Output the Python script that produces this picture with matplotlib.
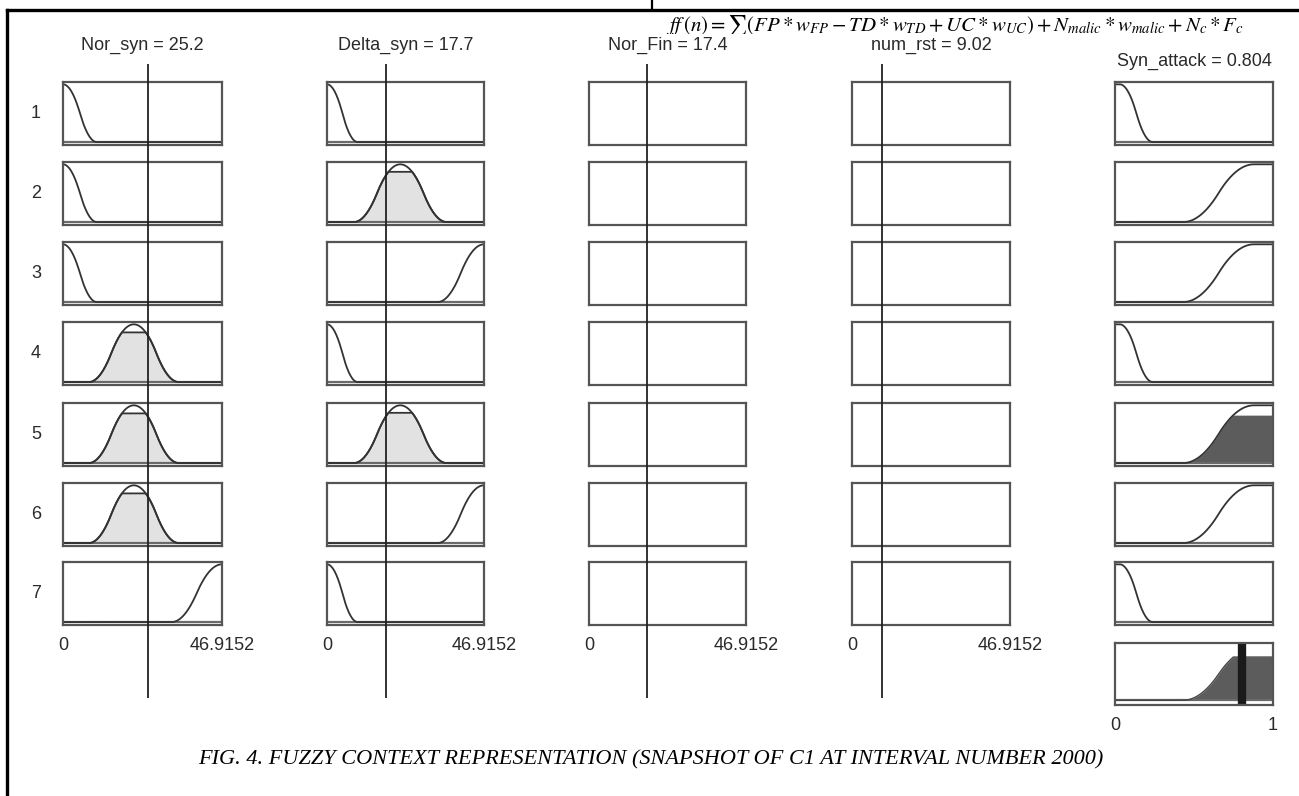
import numpy as np
import matplotlib
matplotlib.use("Agg")
import matplotlib.pyplot as plt
from matplotlib.transforms import Bbox

plt.rcParams["font.family"] = ["Liberation Sans", "DejaVu Sans"]
plt.rcParams["mathtext.fontset"] = "stix"

# input / output variables
in_names = ["Nor_syn", "Delta_syn", "Nor_Fin", "num_rst"]
in_values = [25.2, 17.7, 17.4, 9.02]
in_range = 46.9152
out_name = "Syn_attack"
out_value = 0.804
rule_ids = ["1", "2", "3", "4", "5", "6", "7"]

# membership functions per rule (type, p1, p2); None = not used in the rule
# z/s: start, end of the transition; p: centre, half width of the bump
mf_nor_syn = [("z", 0, 10), ("z", 0, 10), ("z", 0, 10), ("p", 20.9, 13.3),
              ("p", 20.9, 13.3), ("p", 20.9, 13.3), ("s", 32, 46.9)]
mf_delta_syn = [("z", 0, 9.2), ("p", 21.9, 13.9), ("s", 33, 46.9), ("z", 0, 9.2),
                ("p", 21.9, 13.9), ("s", 33, 46.9), ("z", 0, 9.2)]
mf_nor_fin = [None] * 7
mf_num_rst = [None] * 7
mf_syn_attack = [("z", 0.03, 0.24), ("s", 0.43, 0.88), ("s", 0.43, 0.88), ("z", 0.03, 0.24),
                 ("s", 0.43, 0.88), ("s", 0.43, 0.88), ("z", 0.03, 0.24)]

# membership degree of the current input in each rule (None = not shaded)
deg_nor_syn = [None, None, None, 0.86, 0.86, 0.86, None]
deg_delta_syn = [None, 0.87, None, None, 0.87, None, None]
firing = [None, None, None, None, 0.83, None, None]


def zmf(x, a, b):
    y = np.ones_like(x)
    m = (a + b) / 2
    i1 = (x > a) & (x <= m)
    i2 = (x > m) & (x < b)
    y[i1] = 1 - 2 * ((x[i1] - a) / (b - a)) ** 2
    y[i2] = 2 * ((x[i2] - b) / (b - a)) ** 2
    y[x >= b] = 0
    return y


def mf_eval(mf, x):
    kind, p1, p2 = mf
    if kind == "z":
        return zmf(x, p1, p2)
    if kind == "s":
        return 1 - zmf(x, p1, p2)
    # pi-shaped bump: s rising to the centre, z falling after it
    return np.where(x < p1, 1 - zmf(x, p1 - p2, p1), zmf(x, p1, p1 + p2))


W, H = 1299, 796
fig = plt.figure(figsize=(W / 100, H / 100), dpi=100)


def px_axes(x0, y0, x1, y1):
    return fig.add_axes([x0 / W, 1 - y1 / H, (x1 - x0) / W, (y1 - y0) / H])


col_x = [(63, 222), (327, 484), (589, 746), (852, 1010), (1115, 1273)]
row_top = [82, 162, 242, 322, 403, 483, 562]
box_h = 63
edge = "#555555"
curve = "#333333"
txt = "#2a2a2a"


def style_box(ax, xlim, ylim, baseline=True):
    ax.set_xlim(*xlim)
    ax.set_ylim(*ylim)
    ax.set_xticks([])
    ax.set_yticks([])
    for s in ax.spines.values():
        s.set_color(edge)
        s.set_linewidth(1.6)
    if baseline:
        ax.axhline(0, color="#6a6a6a", lw=1.6)


in_mfs = [mf_nor_syn, mf_delta_syn, mf_nor_fin, mf_num_rst]
in_degs = [deg_nor_syn, deg_delta_syn, [None] * 7, [None] * 7]
xs = np.linspace(0, in_range, 400)

for c in range(4):
    x0, x1 = col_x[c]
    for r in range(7):
        ax = px_axes(x0, row_top[r], x1, row_top[r] + box_h)
        mf = in_mfs[c][r]
        style_box(ax, (0, in_range), (-0.05, 1.04), baseline=mf is not None)
        if mf is not None:
            mu = mf_eval(mf, xs)
            d = in_degs[c][r]
            if d is not None:
                cut = np.minimum(mu, d)
                ax.fill_between(xs, 0, cut, color="#e2e2e2", lw=0)
                ax.plot(xs, cut, color=curve, lw=1.3)
            ax.plot(xs, mu, color=curve, lw=1.3)
        if c == 0:
            ax.text(-0.17, 0.5, rule_ids[r], transform=ax.transAxes, ha="center",
                    va="center", fontsize=13, color=txt)
        if r == 0:
            ax.set_title(f"{in_names[c]} = {in_values[c]:g}", fontsize=13, color=txt, pad=23)
        if r == 6:
            ax.set_xticks([0, in_range])
            ax.set_xticklabels(["0", f"{in_range:g}"], fontsize=13, color=txt)
            ax.tick_params(axis="x", length=0, pad=9)
    # input value line across the column
    lax = px_axes(x0, 64, x1, 698)
    lax.set_xlim(0, in_range)
    lax.axis("off")
    lax.axvline(in_values[c], color="#222222", lw=1.3)

# output column
xo = np.linspace(0, 1, 400)
x0, x1 = col_x[4]
agg = np.zeros_like(xo)
for r in range(7):
    ax = px_axes(x0, row_top[r], x1, row_top[r] + box_h)
    style_box(ax, (0, 1), (-0.05, 1.04))
    mu = mf_eval(mf_syn_attack[r], xo)
    if firing[r] is not None:
        cut = np.minimum(mu, firing[r])
        agg = np.maximum(agg, cut)
        ax.fill_between(xo, 0, cut, color="#5c5c5c", lw=0)
    ax.plot(xo, mu, color=curve, lw=1.3)
    if r == 0:
        ax.set_title(f"{out_name} = {out_value:g}", fontsize=13, color=txt, pad=12)

ax = px_axes(x0, 643, x1, 705)
style_box(ax, (0, 1), (-0.09, 1.1))
ax.fill_between(xo, 0, agg, color="#5c5c5c", lw=0)
ax.plot(xo, agg, color="#444444", lw=1.0)
ax.axvline(out_value, color="#1a1a1a", lw=6)
ax.set_xticks([0, 1])
ax.set_xticklabels(["0", "1"], fontsize=13, color=txt)
ax.tick_params(axis="x", length=0, pad=9)

# page frame of the scanned paper
fig.add_artist(plt.Line2D([7 / W, 7 / W], [0, 1 - 10 / H], color="black", lw=2.4))
fig.add_artist(plt.Line2D([7 / W, 1], [1 - 10 / H, 1 - 10 / H], color="black", lw=2.4))
fig.add_artist(plt.Line2D([652 / W, 652 / W], [1 - 10 / H, 1], color="black", lw=1.6))

# equation from the paper's text, cut off at the bottom by the figure edge
formula = (r"$ff\,(n) = \sum(FP * w_{FP} - TD * w_{TD} + UC * w_{UC}) + "
           r"N_{malic} * w_{malic} + N_c * F_c$")
ft = fig.text(666 / W, 1 - 31 / H, formula, fontsize=15, ha="left", va="baseline")
ft.set_clip_box(Bbox.from_extents(0, H - 33.5, W, H))
ft.set_clip_on(True)

fig.text(651 / W, 1 - 760 / H,
         "FIG. 4. FUZZY CONTEXT REPRESENTATION (SNAPSHOT OF C1 AT INTERVAL NUMBER 2000)",
         family=["Liberation Serif", "DejaVu Serif"], style="italic", fontsize=16,
         ha="center", va="center")

fig.savefig("out.png", dpi=100, facecolor="white")
